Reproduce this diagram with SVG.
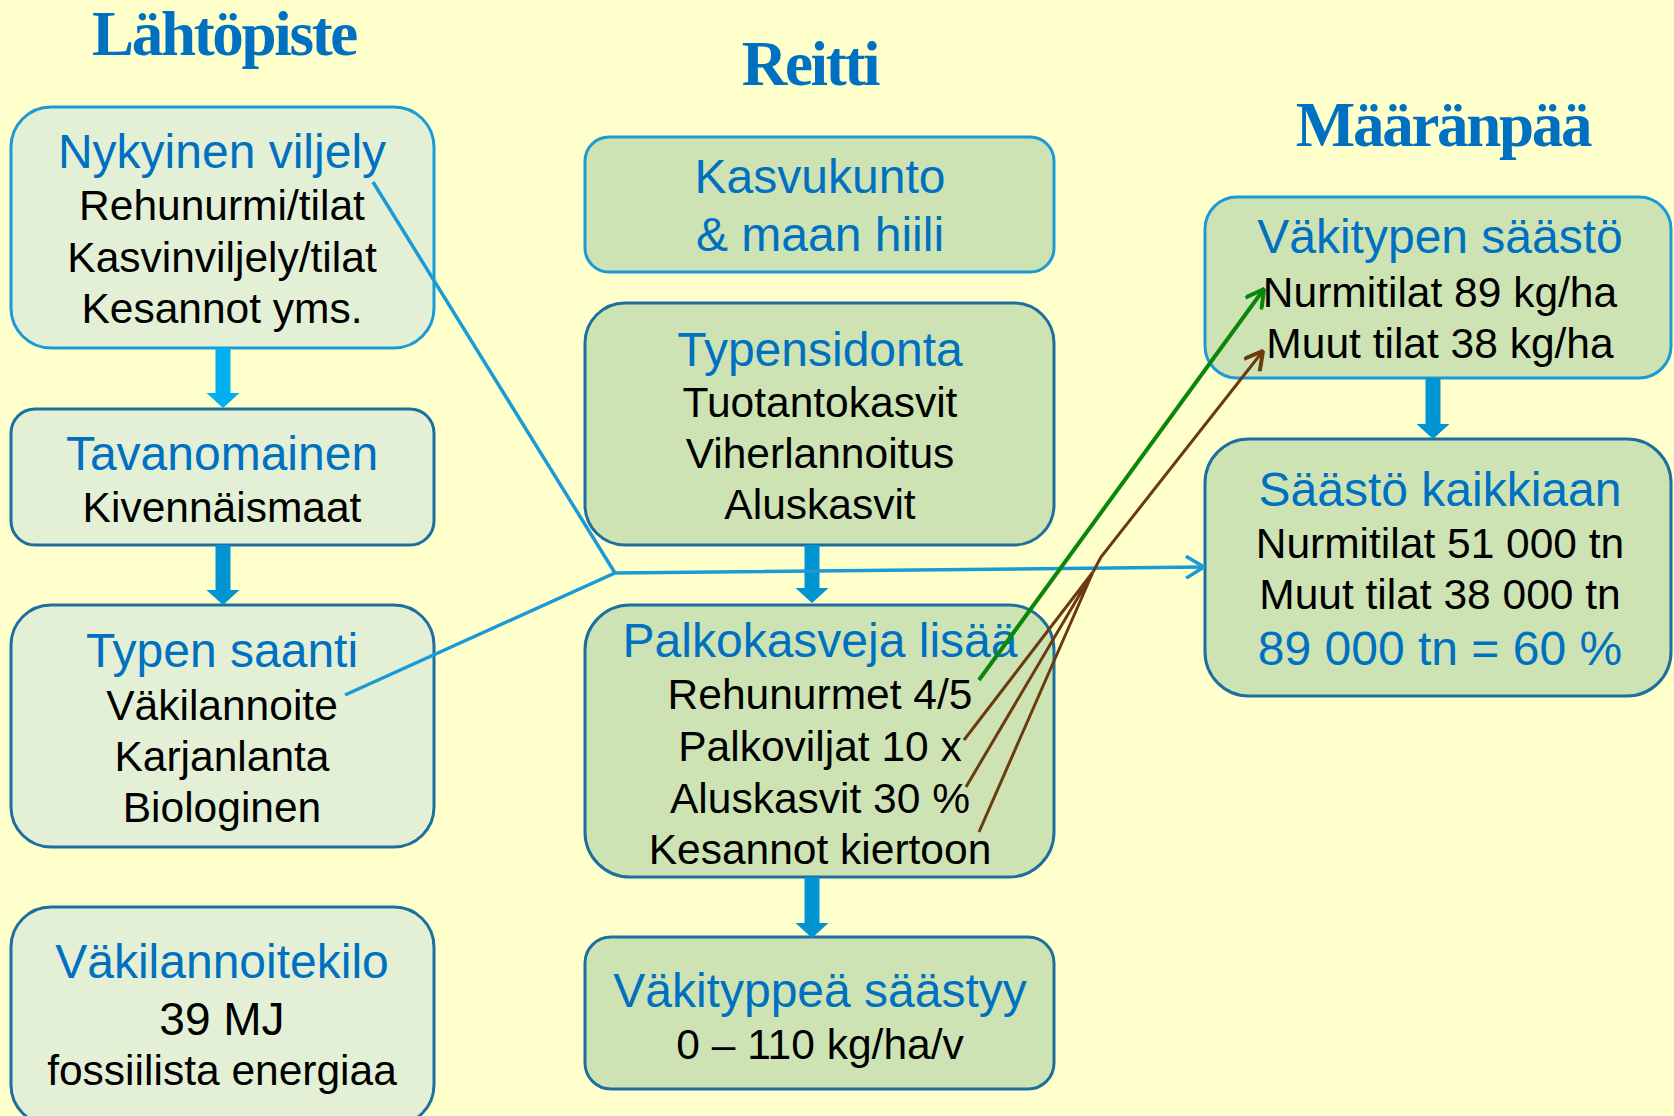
<svg xmlns="http://www.w3.org/2000/svg" width="1674" height="1116" viewBox="0 0 1674 1116">
<defs>
<style>
.lt{fill:#E3F0D6}
.dk{fill:#CEE3B3}
.s1{stroke:#1A9BD7;stroke-width:3}
.s2{stroke:#1C6F9E;stroke-width:3}
.h{font-family:"Liberation Serif","Times New Roman",serif;font-weight:bold;font-size:63px;fill:#0070C0;text-anchor:middle;letter-spacing:-2.3px}
.t{font-family:"Liberation Sans",Arial,sans-serif;font-size:48px;fill:#0070C0;text-anchor:middle}
.b{font-family:"Liberation Sans",Arial,sans-serif;font-size:42.5px;fill:#000;text-anchor:middle}
.ba{fill:#0094D2}
.cb{fill:none;stroke:#1A9BD7;stroke-width:3.5}
.cg{fill:none;stroke:#0A870A;stroke-width:4}
.cr{fill:none;stroke:#6B3A0E;stroke-width:3}
</style>
<marker id="mb" viewBox="0 0 20 24" refX="19" refY="12" markerWidth="20" markerHeight="24" orient="auto" markerUnits="userSpaceOnUse"><path d="M1,1 L19,12 L1,23" fill="none" stroke="#1A9BD7" stroke-width="3.5"/></marker>
<marker id="mg" viewBox="0 0 20 22" refX="19" refY="11" markerWidth="20" markerHeight="22" orient="auto" markerUnits="userSpaceOnUse"><path d="M1,1 L19,11 L1,21" fill="none" stroke="#0A870A" stroke-width="4"/></marker>
<marker id="mr" viewBox="0 0 20 22" refX="19" refY="11" markerWidth="20" markerHeight="22" orient="auto" markerUnits="userSpaceOnUse"><path d="M1,1 L19,11 L1,21" fill="none" stroke="#6B3A0E" stroke-width="4"/></marker>
</defs>
<rect x="0" y="0" width="1674" height="1116" fill="#FFFFCC"/>

<g id="titles">
<text class="h" x="224" y="55">Lähtöpiste</text>
<text class="h" x="810" y="85">Reitti</text>
<text class="h" x="1443" y="146">Määränpää</text>
</g>

<g id="n-nykyinen">
<rect class="lt s1" x="11" y="107" width="423" height="241" rx="40"/>
<text class="t" x="222" y="168">Nykyinen viljely</text>
<text class="b" x="222" y="220">Rehunurmi/tilat</text>
<text class="b" x="222" y="272">Kasvinviljely/tilat</text>
<text class="b" x="222" y="323">Kesannot yms.</text>
</g>
<g id="n-tavanomainen">
<rect class="lt s2" x="11" y="409" width="423" height="136" rx="24"/>
<text class="t" x="222" y="470">Tavanomainen</text>
<text class="b" x="222" y="522">Kivennäismaat</text>
</g>
<g id="n-typen-saanti">
<rect class="lt s2" x="11" y="605" width="423" height="242" rx="40"/>
<text class="t" x="222" y="667">Typen saanti</text>
<text class="b" x="222" y="720">Väkilannoite</text>
<text class="b" x="222" y="771">Karjanlanta</text>
<text class="b" x="222" y="822">Biologinen</text>
</g>
<g id="n-vakilannoitekilo">
<rect class="lt s2" x="11" y="907" width="423" height="218" rx="40"/>
<text class="t" x="222" y="978">Väkilannoitekilo</text>
<text class="b" x="222" y="1035" style="font-size:46px">39 MJ</text>
<text class="b" x="222" y="1085">fossiilista energiaa</text>
</g>

<g id="n-kasvukunto">
<rect class="dk s1" x="585" y="137" width="469" height="135" rx="24"/>
<text class="t" x="820" y="193">Kasvukunto</text>
<text class="t" x="820" y="251">&amp; maan hiili</text>
</g>
<g id="n-typensidonta">
<rect class="dk s2" x="585" y="303" width="469" height="242" rx="40"/>
<text class="t" x="820" y="366">Typensidonta</text>
<text class="b" x="820" y="417">Tuotantokasvit</text>
<text class="b" x="820" y="468">Viherlannoitus</text>
<text class="b" x="820" y="519">Aluskasvit</text>
</g>
<g id="n-palkokasveja">
<rect class="dk s2" x="585" y="605" width="469" height="272" rx="45"/>
<text class="t" x="820" y="657">Palkokasveja lisää</text>
<text class="b" x="820" y="709">Rehunurmet 4/5</text>
<text class="b" x="820" y="761">Palkoviljat 10 x</text>
<text class="b" x="820" y="813">Aluskasvit 30 %</text>
<text class="b" x="820" y="864">Kesannot kiertoon</text>
</g>
<g id="n-vakityppea">
<rect class="dk s2" x="585" y="937" width="469" height="152" rx="26"/>
<text class="t" x="820" y="1007">Väkityppeä säästyy</text>
<text class="b" x="820" y="1059">0 – 110 kg/ha/v</text>
</g>

<g id="n-vakitypen-saasto">
<rect class="dk s1" x="1205" y="197" width="466" height="181" rx="32"/>
<text class="t" x="1440" y="253">Väkitypen säästö</text>
<text class="b" x="1440" y="307">Nurmitilat 89 kg/ha</text>
<text class="b" x="1440" y="358">Muut tilat 38 kg/ha</text>
</g>
<g id="n-saasto-kaikkiaan">
<rect class="dk s2" x="1205" y="439" width="466" height="257" rx="44"/>
<text class="t" x="1440" y="506">Säästö kaikkiaan</text>
<text class="b" x="1440" y="558">Nurmitilat 51 000 tn</text>
<text class="b" x="1440" y="609">Muut tilat 38 000 tn</text>
<text class="t" x="1440" y="665">89 000 tn = 60 %</text>
</g>

<g id="connectors">
<path d="M215.5,348 H230.5 V393 H239.5 L223,408 L206.5,393 H215.5 Z" fill="#00B0F0"/>
<path class="ba" d="M215.5,545 H230.5 V590 H239.5 L223,605 L206.5,590 H215.5 Z"/>
<path class="ba" d="M804.5,545 H819.5 V588 H828.5 L812,603 L795.5,588 H804.5 Z"/>
<path class="ba" d="M804.5,877 H819.5 V923 H828.5 L812,938 L795.5,923 H804.5 Z"/>
<path class="ba" d="M1425.5,378 H1440.5 V424 H1449.5 L1433,439 L1416.5,424 H1425.5 Z"/>
<path class="cb" d="M373,182 L615,573"/>
<path class="cb" d="M345,695 L615,573 L1204,567" marker-end="url(#mb)"/>
<path class="cg" d="M979,680 L1264,289" marker-end="url(#mg)"/>
<path class="cr" d="M964,740 L1093,572 M966,787 L1093,572 M979,832 L1093,572"/>
<path class="cr" d="M1093,572 L1101,557 L1263,351" marker-end="url(#mr)"/>
</g>
</svg>
